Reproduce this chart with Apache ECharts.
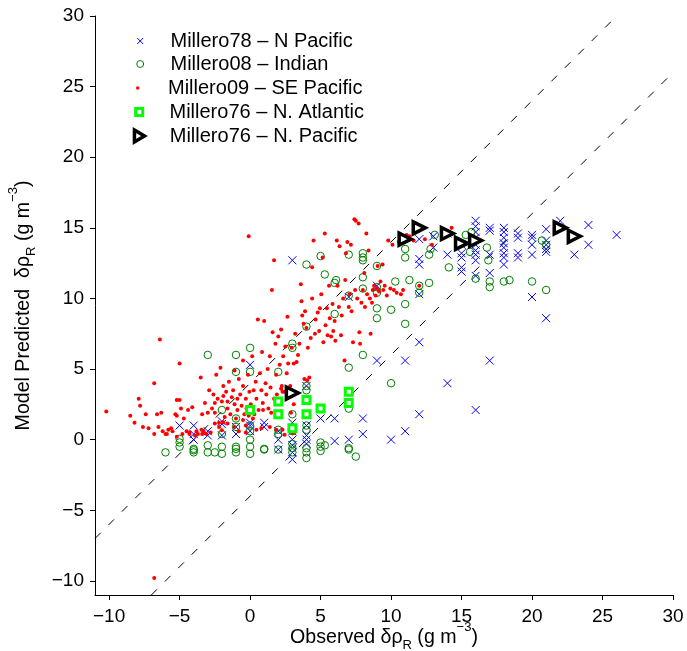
<!DOCTYPE html>
<html><head><meta charset="utf-8">
<script src="https://cdn.jsdelivr.net/npm/echarts@6/dist/echarts.min.js"></script>
<style>html,body{margin:0;padding:0;background:#fff}#c{width:687px;height:651px}</style>
</head><body><div id="c"></div>
<script>
// ---------- data ----------
const seriesNames = ['Millero78 \u2013 N Pacific','Millero08 \u2013 Indian','Millero09 \u2013 SE Pacific','Millero76 \u2013 N. Atlantic','Millero76 \u2013 N. Pacific'];
const xTicks = [-10,-5,0,5,10,15,20,25,30];
const yTicks = [-10,-5,0,5,10,15,20,25,30];
const upperLine = [[-11,-7],[26,30]];
const lowerLine = [[-7,-11],[30,26]];

const millero78 = [[-5,1.0],[-4,1.0],[-4,0.4],[-4,0.0],[-3,0.6],[-3,0.3],[-2,1.3],[-2,1.1],[-2,0.3],[-1,0.9],[-1,0.4],[0,5.3],[0,1.2],[0,1.0],[0,0.6],[1,1.2],[1,0.9],[2,0.6],[2,0.0],[2,-0.7],[3,12.7],[3,1.2],[3,0.6],[3,0.0],[3,-0.4],[3,-0.9],[3,-1.4],[4,3.8],[4,1.0],[4,0.3],[4,0.0],[4,-0.3],[5,1.5],[6,1.5],[6,-0.1],[7,10.1],[7,0.0],[8,1.5],[8,0.4],[9,10.9],[9,5.6],[10,0.0],[11,5.6],[11,0.6],[12,14.2],[12,12.8],[12,12.4],[12,10.3],[12,6.9],[12,1.8],[13,14.4],[13,13.6],[14,14.6],[14,13.1],[14,4.0],[15,13.8],[15,13.2],[15,12.9],[15,12.2],[15,11.9],[16,15.5],[16,15.1],[16,14.7],[16,14.3],[16,13.8],[16,13.4],[16,13.1],[16,12.7],[16,11.6],[16,2.1],[17,15.0],[17,14.8],[17,13.1],[17,11.8],[17,5.6],[18,15.0],[18,14.7],[18,14.3],[18,13.9],[18,13.6],[18,13.2],[18,12.9],[18,12.4],[19,14.6],[19,14.3],[19,13.2],[19,12.9],[20,14.5],[20,14.3],[20,13.8],[20,13.1],[20,10.1],[21,14.9],[21,14.1],[21,13.8],[21,13.5],[21,13.3],[21,8.6],[22,15.5],[23,13.1],[24,15.2],[24,13.8],[26,14.5]];

const millero08 = [[-6,-0.9],[-5,0.06],[-5,-0.2],[-5,-0.5],[-4,-0.65],[-4,-0.9],[-4,-0.75],[-3,6.0],[-3,-0.4],[-3,-0.9],[-2.5,-0.9],[-2,2.1],[-2,0.4],[-2,-0.5],[-2,-1.0],[-1,6.0],[-1,4.8],[-1,1.5],[-1,0.9],[-1,-0.5],[-1,-0.65],[-1,-0.9],[0,6.5],[0,4.8],[0,1.0],[0,0.6],[0,0],[0,-0.5],[0,-1.0],[1,-0.65],[1,-0.7],[2,4.8],[2,0.7],[2,0.4],[2,-0.7],[3,6.8],[3,6.5],[3,1.8],[3,0.6],[3,-0.3],[3,-0.6],[3,-0.9],[4,12.4],[4,8.0],[4,3.8],[4,3.5],[4,1.0],[4,0.7],[4,-0.6],[4,-0.9],[4,-1.3],[5,13.0],[5,-0.2],[5,-0.5],[5,-0.8],[5.3,-0.4],[5.3,11.7],[6,11.1],[6.1,11.3],[6,8.9],[7,13.1],[7,10.2],[7,5.1],[7,2.2],[7,-0.6],[7,-0.7],[7.5,-1.2],[8,13.2],[8,12.9],[8,12.7],[8,11.5],[8,10.7],[8,6.0],[9,12.3],[9,10.8],[9,10.4],[9,9.3],[9,8.6],[10,9.2],[10,4.0],[10.3,11.2],[11,13.5],[11,12.9],[11,9.6],[11,8.2],[11.3,11.3],[12,10.9],[12,10.4],[12.7,11.1],[12.7,13.1],[12.8,13.5],[13.1,14.5],[14.1,12.2],[15.3,14.5],[15.6,13.3],[15.7,14.7],[16,11.4],[16.8,13.6],[16.9,12.7],[17,11.2],[17,10.8],[18,11.2],[18.4,11.3],[20,11.2],[20.7,14.1],[21,10.6],[21,13.8]];

const millero09 = [[-10.2,2.0],[-8.5,1.7],[-8.2,1.2],[-7.9,2.9],[-7.8,2.4],[-7.6,0.9],[-7.4,1.8],[-7.2,0.8],[-6.8,4.0],[-6.8,0.4],[-6.6,1.8],[-6.5,0.9],[-6.4,7.1],[-6.3,1.9],[-6.2,0.6],[-5.9,0.4],[-5.6,0.8],[-5.5,0.6],[-5.3,1.8],[-5.2,1.7],[-5.2,2.8],[-5.0,5.4],[-5.0,2.8],[-4.9,2.2],[-4.8,0.4],[-4.7,1.5],[-4.5,0.6],[-4.4,2.1],[-4.3,0.4],[-4.1,2.3],[-3.9,0.3],[-3.8,0.6],[-3.7,0.4],[-3.5,4.4],[-3.4,0.4],[-3.4,1.8],[-3.3,0.6],[-3.2,2.6],[-3.1,0.4],[-3.0,1.9],[-2.9,3.5],[-2.8,0.5],[-2.7,2.2],[-2.6,3.2],[-2.5,2.6],[-2.5,1.9],[-2.4,4.6],[-2.3,2.9],[-2.2,1.2],[-2.2,0.9],[-2.1,5.1],[-2.0,2.7],[-1.9,3.8],[-1.9,3.1],[-1.8,1.6],[-1.7,3.4],[-1.6,2.2],[-1.6,2.7],[-1.5,4.1],[-1.4,1.8],[-1.3,3.0],[-1.2,3.5],[-1.1,2.5],[-1.1,4.9],[-1.0,1.5],[-0.9,2.9],[-0.9,2.1],[-0.8,4.3],[-0.7,3.2],[-0.6,2.4],[-0.5,5.6],[-0.5,3.8],[-0.4,1.8],[-0.3,2.9],[-0.25,2.2],[-0.15,4.6],[-0.1,14.4],[-0.05,3.4],[0.05,2.5],[0.15,5.9],[0.25,3.5],[0.3,1.8],[0.4,4.1],[0.45,2.9],[0.55,8.5],[0.6,2.1],[0.7,4.7],[0.8,3.5],[0.85,6.2],[0.9,2.6],[1.0,8.4],[1.1,4.0],[1.15,3.2],[1.25,5.0],[1.3,2.2],[1.4,5.9],[1.45,3.7],[1.55,10.6],[1.6,7.6],[1.7,12.7],[1.7,2.9],[1.8,6.8],[1.85,4.6],[1.9,3.2],[2.0,7.3],[2.1,5.3],[2.2,7.8],[2.25,3.8],[2.35,5.9],[2.4,3.4],[2.5,6.6],[2.6,4.7],[2.65,8.7],[2.7,5.4],[2.85,3.8],[2.95,6.5],[3.1,5.4],[3.2,7.5],[3.3,5.5],[3.4,6.0],[3.5,6.8],[3.6,11.0],[3.65,9.8],[3.7,8.8],[3.8,8.2],[3.9,9.1],[4.0,7.9],[4.1,6.5],[4.2,4.4],[4.3,7.2],[4.4,12.2],[4.4,10.0],[4.5,14.1],[4.6,7.5],[4.65,8.5],[4.8,9.0],[4.9,7.7],[4.95,9.3],[5.05,10.3],[5.15,12.9],[5.2,6.9],[5.3,14.6],[5.35,8.1],[5.45,9.3],[5.5,7.4],[5.6,10.9],[5.65,8.6],[5.75,7.3],[5.85,9.6],[5.9,7.7],[6.0,8.4],[6.05,7.0],[6.15,14.1],[6.2,10.9],[6.3,9.4],[6.35,13.7],[6.45,7.4],[6.5,8.8],[6.6,10.0],[6.7,5.6],[6.75,11.3],[6.8,13.2],[6.9,14.0],[7.0,9.4],[7.05,10.3],[7.15,13.8],[7.2,9.1],[7.3,6.9],[7.4,15.6],[7.45,10.6],[7.5,15.5],[7.6,10.0],[7.7,15.3],[7.75,7.6],[7.8,6.8],[7.9,9.7],[8.0,10.6],[8.1,11.8],[8.15,9.4],[8.25,14.6],[8.3,10.3],[8.4,13.4],[8.5,10.0],[8.55,7.5],[8.65,9.7],[8.7,10.6],[8.8,10.9],[8.9,10.2],[9.0,10.7],[9.05,12.3],[9.15,10.5],[9.25,11.2],[9.4,12.4],[9.45,10.6],[9.55,10.9],[9.7,10.2],[9.8,14.1],[9.95,10.7],[10.1,13.8],[10.2,10.6],[10.4,10.4],[10.55,14.0],[10.7,10.3],[10.85,10.6],[11.1,14.5],[11.3,14.4],[11.6,14.1],[12.0,10.9],[12.4,14.2],[12.9,13.8],[14.3,15.0],[-6.8,-9.8],[-6.0,0.4],[-5.8,0.7],[-5.2,0.2],[-4.3,0.5],[-3.45,0.7],[-3.3,0.5],[-2.5,1.15],[-2.0,0.67],[-1.9,1.24],[-1.6,1.15],[-1.1,0.9],[-0.8,0.6],[-0.3,1.0],[-0.3,0.5],[0.2,1.5],[-0.1,1.7],[-0.5,1.4],[0.45,0.7],[0.8,0.8],[1.4,0.9],[1.86,0.7],[2.3,0.7],[2.45,0.35],[3.04,0.45],[0.92,2.1],[1.5,1.9],[2.2,2.0],[2.9,1.9],[3.1,2.5],[3.85,4.3],[4.05,4.2],[2.3,3.4],[2.2,3.6]];

const millero76A = [[0,2.1],[2,2.7],[2,1.8],[3,0.8],[4,2.8],[4,1.8],[5,2.2],[7,3.4],[7,2.6]];
const millero76P = [[3,3.3],[11,14.2],[12,15.0],[14,14.6],[15,13.9],[16,14.1],[22,15.0],[23,14.4]];

// ---------- chart ----------
const FONT = 'Liberation Sans, Arial, Helvetica, sans-serif';
const fmt = v => (v < 0 ? '\u2212' + Math.abs(v) : String(v));
const rich = {
  m: {fontSize: 19.6, fontFamily: FONT, color: '#000'},
  sub: {fontSize: 13, fontFamily: FONT, color: '#000', padding: [16, 0, 0, 0]},
  sup: {fontSize: 13, fontFamily: FONT, color: '#000', padding: [0, 0, 20, 0]}
};
const xSymbol = 'path://M0,0L10,10M10,0L0,10';
const triRight = 'path://M0,0L10,6L0,12Z';

const styles = [
  {symbol: xSymbol, size: 8, item: {color: 'none', borderColor: '#0000ff', borderWidth: 1, opacity: 1}, legendSize: 6},
  {symbol: 'circle', size: 7.5, item: {color: 'none', borderColor: '#008000', borderWidth: 1, opacity: 1}, legendSize: 7},
  {symbol: 'circle', size: 4, item: {color: '#ff0000', opacity: 1}, legendSize: 3.5},
  {symbol: 'rect', size: 7, item: {color: '#ffffff', borderColor: '#00ff00', borderWidth: 3, opacity: 1}, legendSize: 7},
  {symbol: 'triangle', size: 12, rotate: -90, legendIcon: triRight, item: {color: '#ffffff', borderColor: '#000000', borderWidth: 3.5, opacity: 1}, legendSize: 10}
];
const datasets = [millero78, millero08, millero09, millero76A, millero76P];
const legendRows = [41, 64, 88, 112, 136];

const series = datasets.map((d, i) => ({
  name: seriesNames[i], type: 'scatter', data: d,
  symbol: styles[i].symbol, symbolSize: styles[i].size, symbolRotate: styles[i].rotate || 0,
  itemStyle: styles[i].item, silent: true, animation: false
}));
[upperLine, lowerLine].forEach(l => series.push({
  type: 'line', data: l, showSymbol: false, silent: true, animation: false,
  lineStyle: {color: '#000', width: 1, type: [8, 11]}, z: 1
}));

const legends = seriesNames.map((n, i) => {
  const s = styles[i].legendSize;
  const item = {name: n, itemStyle: styles[i].item};
  if (styles[i].legendIcon) item.icon = styles[i].legendIcon;
  return {
    data: [item],
    left: 137.7 - s / 2, top: legendRows[i] - 10, padding: 0,
    itemWidth: s, itemHeight: s * (styles[i].legendIcon ? 1.2 : 1), itemGap: 0,
    itemStyle: {borderWidth: styles[i].item.borderWidth || 0},
    textStyle: {fontSize: 20, fontFamily: FONT, color: '#000', padding: [0, 0, 0, 168 - (137.7 + s / 2) - 5]},
    selectedMode: false
  };
});

const axisCommon = {
  type: 'value', min: -11, max: 30,
  axisLine: {show: true, onZero: false, lineStyle: {color: '#000', width: 1}},
  axisTick: {show: true, inside: false, length: 5, lineStyle: {color: '#000'}},
  splitLine: {show: false},
  axisLabel: {fontSize: 19, fontFamily: FONT, color: '#000', formatter: fmt}
};

const chart = echarts.init(document.getElementById('c'), null, {renderer: 'canvas'});
chart.setOption({
  animation: false,
  backgroundColor: '#fff',
  grid: {left: 95, right: 14, top: 16, bottom: 56, containLabel: false, outerBoundsMode: 'none'},
  legend: legends,
  xAxis: Object.assign({}, axisCommon, {
    axisTick: Object.assign({}, axisCommon.axisTick, {customValues: xTicks}),
    axisLabel: Object.assign({}, axisCommon.axisLabel, {customValues: xTicks, margin: 12}),
    name: '{m|Observed \u03b4\u03c1}{sub|R}{m| (g m}{sup|\u22123}{m|)}',
    nameLocation: 'middle', nameGap: 26, nameMoveOverlap: false,
    nameTextStyle: {rich: rich}
  }),
  yAxis: Object.assign({}, axisCommon, {
    axisTick: Object.assign({}, axisCommon.axisTick, {customValues: yTicks}),
    axisLabel: Object.assign({}, axisCommon.axisLabel, {customValues: yTicks, margin: 11}),
    name: '{m|Model Predicted  \u03b4\u03c1}{sub|R}{m| (g m}{sup|\u22123}{m|)}',
    nameLocation: 'middle', nameGap: 55, nameMoveOverlap: false,
    nameTextStyle: {rich: rich}
  }),
  series: series
});
</script></body></html>
